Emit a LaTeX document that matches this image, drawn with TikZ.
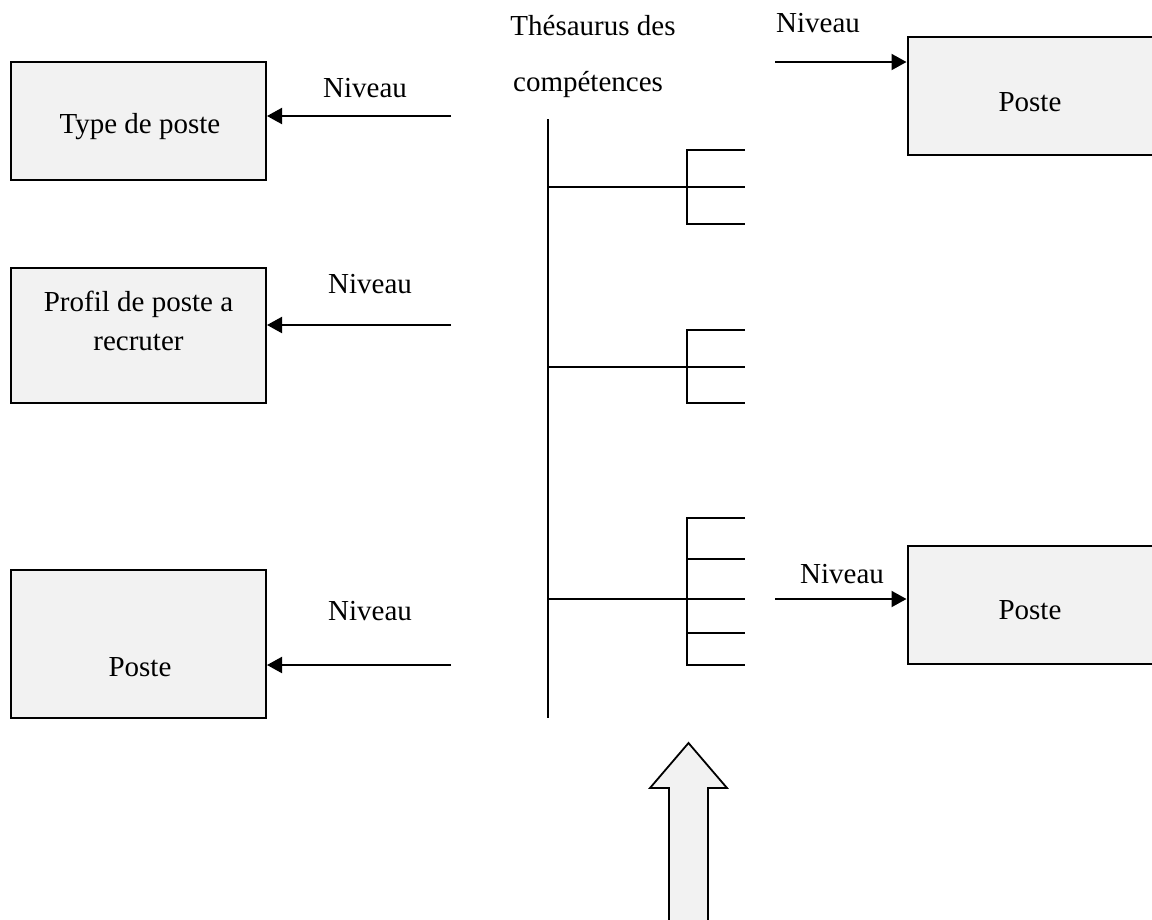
\documentclass[tikz,border=0pt]{standalone}
\usepackage{fontspec}
\setmainfont{Liberation Serif}
\usetikzlibrary{arrows.meta}

\begin{document}
\begin{tikzpicture}[x=1pt, y=-1pt,
    every node/.style={font=\fontsize{29}{38}\selectfont, inner sep=0pt},
    lbl/.style={anchor=base},
    box/.style={draw, line width=2pt, fill=black!5, minimum width=255pt},
    link/.style={line width=2pt, -{Triangle[length=15pt, width=16pt]}},
    tree/.style={line width=1.8pt}
  ]
  \useasboundingbox (0,0) rectangle (1152,919);

  % boxes on the left
  \node[box, minimum height=118pt] (tp) at (138.5,121) {};
  \node[lbl] (tptext) at (140,133) {Type de poste};
  \node[box, minimum height=135pt] (pr) at (138.5,335.5) {};
  \node[lbl] (prtext1) at (138.5,311) {Profil de poste a};
  \node[lbl] (prtext2) at (138.5,350) {recruter};
  \node[box, minimum height=148pt] (pl) at (138.5,644) {};
  \node[lbl] (pltext) at (140,676) {Poste};

  % boxes on the right (cut by the page edge)
  \node[box, minimum height=118pt, minimum width=247pt] (pa) at (1031,96) {};
  \node[lbl] (patext) at (1030,111) {Poste};
  \node[box, minimum height=118pt, minimum width=247pt] (pb) at (1031,605) {};
  \node[lbl] (pbtext) at (1030,619) {Poste};

  % thesaurus title
  \node[lbl] (th1) at (593,35) {Thésaurus des};
  \node[lbl] (th2) at (588,91) {compétences};

  % level arrows
  \coordinate (s1) at (451,116);
  \coordinate (s2) at (451,325);
  \coordinate (s3) at (451,665);
  \coordinate (s4) at (775,62);
  \coordinate (s5) at (775,599);
  \draw[link] (s1) -- (tp.east |- s1);
  \draw[link] (s2) -- (pr.east |- s2);
  \draw[link] (s3) -- (pl.east |- s3);
  \draw[link] (s4) -- (pa.west |- s4);
  \draw[link] (s5) -- (pb.west |- s5);
  \node[lbl] (n1) at (365,97) {Niveau};
  \node[lbl] (n2) at (370,293) {Niveau};
  \node[lbl] (n3) at (370,620) {Niveau};
  \node[lbl] (n4) at (818,32) {Niveau};
  \node[lbl] (n5) at (842,583) {Niveau};

  % competence tree
  \draw[tree] (548,119) -- (548,718);
  \draw[tree] (548,187) -- (687,187);
  \draw[tree] (745,150) -- (687,150) -- (687,224) -- (745,224);
  \draw[tree] (687,187) -- (745,187);
  \draw[tree] (548,367) -- (687,367);
  \draw[tree] (745,330) -- (687,330) -- (687,403) -- (745,403);
  \draw[tree] (687,367) -- (745,367);
  \draw[tree] (548,599) -- (687,599);
  \draw[tree] (745,518) -- (687,518) -- (687,665) -- (745,665);
  \foreach \yy in {559,599,633} \draw[tree] (687,\yy) -- (745,\yy);

  % block arrow pointing up to the tree
  \draw[line width=1.8pt, fill=black!5, line join=miter]
    (669,935) -- (669,788) -- (650,788) -- (688.5,743) -- (727,788)
    -- (708,788) -- (708,935);
\end{tikzpicture}
\end{document}
